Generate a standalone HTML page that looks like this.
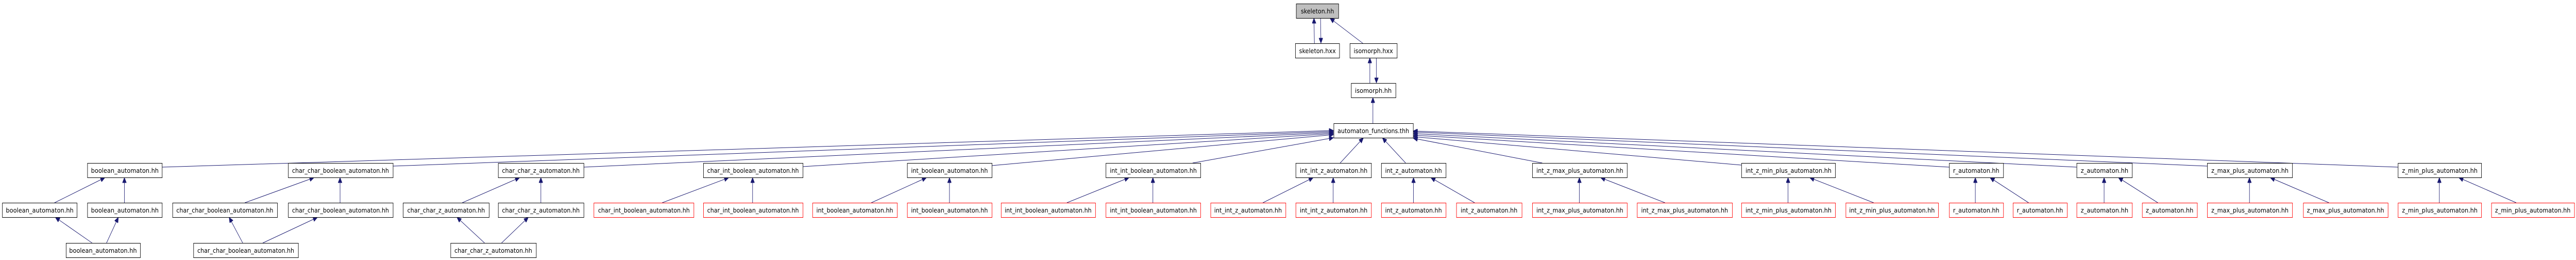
<!DOCTYPE html>
<html><head><meta charset="utf-8"><style>
html,body{margin:0;padding:0;background:#fff;width:100%;height:100%;overflow:hidden}
svg{display:block;position:absolute;left:0;top:0;width:100vw;height:100vh}
text{font-family:"DejaVu Sans","Liberation Sans",sans-serif;font-size:12px;fill:#000}
.n{fill:#fff;stroke:#000;stroke-width:1}
.r{fill:#fff;stroke:#ff0000;stroke-width:1}
.e{stroke:#191970;stroke-width:1;fill:none;marker-end:url(#a)}
</style></head><body>
<svg viewBox="0 0 5901 504" preserveAspectRatio="none" xmlns="http://www.w3.org/2000/svg">
<defs><marker id="a" markerUnits="userSpaceOnUse" markerWidth="11" markerHeight="9" refX="10" refY="4.5" orient="auto"><path d="M0,0 L10,4.5 L0,9 z" fill="#191970" stroke="#191970"/></marker></defs>

<g>
<line class="e" x1="3011" y1="84" x2="3010" y2="35.5"/>
<line class="e" x1="3025" y1="35" x2="3026" y2="83.5"/>
<line class="e" x1="3122" y1="84" x2="3047" y2="35.5"/>
<line class="e" x1="3138" y1="161" x2="3138" y2="112.5"/>
<line class="e" x1="3153" y1="112" x2="3153" y2="160.5"/>
<line class="e" x1="3145" y1="239" x2="3145" y2="189.5"/>

<line class="e" x1="371" y1="324" x2="3054.5" y2="253"/>
<line class="e" x1="900" y1="322" x2="3054.5" y2="255"/>
<line class="e" x1="1337" y1="324" x2="3054.5" y2="257"/>
<line class="e" x1="1839" y1="323" x2="3054.5" y2="259"/>
<line class="e" x1="2272" y1="321" x2="3054.5" y2="261"/>
<line class="e" x1="2732" y1="316" x2="3054.5" y2="267"/>
<line class="e" x1="3070" y1="316" x2="3123" y2="267.5"/>
<line class="e" x1="3220" y1="316" x2="3167" y2="267.5"/>
<line class="e" x1="3533" y1="316" x2="3237.5" y2="268"/>
<line class="e" x1="3989" y1="320" x2="3237.5" y2="265"/>
<line class="e" x1="4465" y1="324" x2="3237.5" y2="262"/>
<line class="e" x1="4757" y1="324" x2="3237.5" y2="259"/>
<line class="e" x1="5056" y1="322" x2="3237.5" y2="256"/>
<line class="e" x1="5493" y1="324" x2="3237.5" y2="254"/>

<line class="e" x1="125" y1="393" x2="240" y2="344.5"/>
<line class="e" x1="285" y1="393" x2="285" y2="344.5"/>
<line class="e" x1="211" y1="471" x2="127" y2="421.5"/>
<line class="e" x1="244" y1="471" x2="271" y2="421.5"/>
<line class="e" x1="561" y1="393" x2="719" y2="344.5"/>
<line class="e" x1="779" y1="393" x2="779" y2="344.5"/>
<line class="e" x1="556" y1="471" x2="525" y2="421.5"/>
<line class="e" x1="602" y1="471" x2="727" y2="421.5"/>
<line class="e" x1="1059" y1="393" x2="1190" y2="344.5"/>
<line class="e" x1="1239" y1="393" x2="1239" y2="344.5"/>
<line class="e" x1="1110" y1="471" x2="1047" y2="421.5"/>
<line class="e" x1="1149" y1="471" x2="1210" y2="421.5"/>
<line class="e" x1="1517" y1="393" x2="1669" y2="344.5"/>
<line class="e" x1="1724" y1="393" x2="1724" y2="344.5"/>
<line class="e" x1="1996" y1="393" x2="2122" y2="344.5"/>
<line class="e" x1="2175" y1="393" x2="2175" y2="344.5"/>
<line class="e" x1="2444" y1="393" x2="2586" y2="344.5"/>
<line class="e" x1="2641" y1="393" x2="2641" y2="344.5"/>
<line class="e" x1="2893" y1="393" x2="3008" y2="344.5"/>
<line class="e" x1="3054" y1="393" x2="3054" y2="344.5"/>
<line class="e" x1="3238" y1="393" x2="3238" y2="344.5"/>
<line class="e" x1="3378" y1="393" x2="3278" y2="344.5"/>
<line class="e" x1="3618" y1="393" x2="3618" y2="344.5"/>
<line class="e" x1="3814" y1="393" x2="3667" y2="344.5"/>
<line class="e" x1="4096" y1="393" x2="4096" y2="344.5"/>
<line class="e" x1="4292" y1="393" x2="4146" y2="344.5"/>
<line class="e" x1="4525" y1="393" x2="4525" y2="344.5"/>
<line class="e" x1="4647" y1="393" x2="4559" y2="344.5"/>
<line class="e" x1="4820" y1="393" x2="4820" y2="344.5"/>
<line class="e" x1="4943" y1="393" x2="4853" y2="344.5"/>
<line class="e" x1="5153" y1="393" x2="5153" y2="344.5"/>
<line class="e" x1="5335" y1="393" x2="5201" y2="344.5"/>
<line class="e" x1="5588" y1="393" x2="5588" y2="344.5"/>
<line class="e" x1="5764" y1="393" x2="5633" y2="344.5"/>
</g>

<g text-anchor="middle">
<rect x="2969.5" y="7.5" width="97" height="28" fill="#bfbfbf" stroke="#000"/><text x="3018" y="26" textLength="76" lengthAdjust="spacingAndGlyphs">skeleton.hh</text>
<rect class="n" x="2967.5" y="84.5" width="101" height="28"/><text x="3018" y="103" textLength="84" lengthAdjust="spacingAndGlyphs">skeleton.hxx</text>
<rect class="n" x="3092.5" y="84.5" width="108" height="28"/><text x="3146" y="103" textLength="90" lengthAdjust="spacingAndGlyphs">isomorph.hxx</text>
<rect class="n" x="3095.5" y="161.5" width="102" height="28"/><text x="3146" y="180" textLength="84" lengthAdjust="spacingAndGlyphs">isomorph.hh</text>
<rect class="n" x="3055.5" y="239.5" width="182" height="28"/><text x="3146" y="258" textLength="164" lengthAdjust="spacingAndGlyphs">automaton_functions.thh</text>

<rect class="n" x="200.5" y="316.5" width="171" height="28"/><text x="286" y="335" textLength="155" lengthAdjust="spacingAndGlyphs">boolean_automaton.hh</text>
<rect class="n" x="660.5" y="316.5" width="240" height="28"/><text x="780" y="335" textLength="222" lengthAdjust="spacingAndGlyphs">char_char_boolean_automaton.hh</text>
<rect class="n" x="1141.5" y="316.5" width="196" height="28"/><text x="1239" y="335" textLength="178" lengthAdjust="spacingAndGlyphs">char_char_z_automaton.hh</text>
<rect class="n" x="1611.5" y="316.5" width="228" height="28"/><text x="1725" y="335" textLength="210" lengthAdjust="spacingAndGlyphs">char_int_boolean_automaton.hh</text>
<rect class="n" x="2078.5" y="316.5" width="194" height="28"/><text x="2175" y="335" textLength="176" lengthAdjust="spacingAndGlyphs">int_boolean_automaton.hh</text>
<rect class="n" x="2533.5" y="316.5" width="217" height="28"/><text x="2642" y="335" textLength="199" lengthAdjust="spacingAndGlyphs">int_int_boolean_automaton.hh</text>
<rect class="n" x="2968.5" y="316.5" width="173" height="28"/><text x="3055" y="335" textLength="155" lengthAdjust="spacingAndGlyphs">int_int_z_automaton.hh</text>
<rect class="n" x="3164.5" y="316.5" width="148" height="28"/><text x="3238" y="335" textLength="130" lengthAdjust="spacingAndGlyphs">int_z_automaton.hh</text>
<rect class="n" x="3510.5" y="316.5" width="217" height="28"/><text x="3619" y="335" textLength="199" lengthAdjust="spacingAndGlyphs">int_z_max_plus_automaton.hh</text>
<rect class="n" x="3989.5" y="316.5" width="215" height="28"/><text x="4097" y="335" textLength="197" lengthAdjust="spacingAndGlyphs">int_z_min_plus_automaton.hh</text>
<rect class="n" x="4465.5" y="316.5" width="124" height="28"/><text x="4527" y="335" textLength="106" lengthAdjust="spacingAndGlyphs">r_automaton.hh</text>
<rect class="n" x="4757.5" y="316.5" width="127" height="28"/><text x="4821" y="335" textLength="109" lengthAdjust="spacingAndGlyphs">z_automaton.hh</text>
<rect class="n" x="5056.5" y="316.5" width="195" height="28"/><text x="5154" y="335" textLength="177" lengthAdjust="spacingAndGlyphs">z_max_plus_automaton.hh</text>
<rect class="n" x="5493.5" y="316.5" width="191" height="28"/><text x="5589" y="335" textLength="173" lengthAdjust="spacingAndGlyphs">z_min_plus_automaton.hh</text>

<rect class="n" x="5.5" y="393.5" width="171" height="28"/><text x="91" y="412" textLength="155" lengthAdjust="spacingAndGlyphs">boolean_automaton.hh</text>
<rect class="n" x="200.5" y="393.5" width="171" height="28"/><text x="286" y="412" textLength="155" lengthAdjust="spacingAndGlyphs">boolean_automaton.hh</text>
<rect class="n" x="395.5" y="393.5" width="240" height="28"/><text x="515" y="412" textLength="222" lengthAdjust="spacingAndGlyphs">char_char_boolean_automaton.hh</text>
<rect class="n" x="660.5" y="393.5" width="240" height="28"/><text x="780" y="412" textLength="222" lengthAdjust="spacingAndGlyphs">char_char_boolean_automaton.hh</text>
<rect class="n" x="923.5" y="393.5" width="197" height="28"/><text x="1022" y="412" textLength="178" lengthAdjust="spacingAndGlyphs">char_char_z_automaton.hh</text>
<rect class="n" x="1141.5" y="393.5" width="196" height="28"/><text x="1239" y="412" textLength="178" lengthAdjust="spacingAndGlyphs">char_char_z_automaton.hh</text>
<rect class="r" x="1360.5" y="393.5" width="229" height="28"/><text x="1475" y="412" textLength="210" lengthAdjust="spacingAndGlyphs">char_int_boolean_automaton.hh</text>
<rect class="r" x="1611.5" y="393.5" width="228" height="28"/><text x="1725" y="412" textLength="210" lengthAdjust="spacingAndGlyphs">char_int_boolean_automaton.hh</text>
<rect class="r" x="1861.5" y="393.5" width="194" height="28"/><text x="1958" y="412" textLength="176" lengthAdjust="spacingAndGlyphs">int_boolean_automaton.hh</text>
<rect class="r" x="2078.5" y="393.5" width="194" height="28"/><text x="2175" y="412" textLength="176" lengthAdjust="spacingAndGlyphs">int_boolean_automaton.hh</text>
<rect class="r" x="2293.5" y="393.5" width="216" height="28"/><text x="2401" y="412" textLength="199" lengthAdjust="spacingAndGlyphs">int_int_boolean_automaton.hh</text>
<rect class="r" x="2533.5" y="393.5" width="217" height="28"/><text x="2642" y="412" textLength="199" lengthAdjust="spacingAndGlyphs">int_int_boolean_automaton.hh</text>
<rect class="r" x="2773.5" y="393.5" width="172" height="28"/><text x="2859" y="412" textLength="155" lengthAdjust="spacingAndGlyphs">int_int_z_automaton.hh</text>
<rect class="r" x="2968.5" y="393.5" width="173" height="28"/><text x="3055" y="412" textLength="155" lengthAdjust="spacingAndGlyphs">int_int_z_automaton.hh</text>
<rect class="r" x="3164.5" y="393.5" width="148" height="28"/><text x="3238" y="412" textLength="130" lengthAdjust="spacingAndGlyphs">int_z_automaton.hh</text>
<rect class="r" x="3336.5" y="393.5" width="150" height="28"/><text x="3411" y="412" textLength="130" lengthAdjust="spacingAndGlyphs">int_z_automaton.hh</text>
<rect class="r" x="3510.5" y="393.5" width="217" height="28"/><text x="3619" y="412" textLength="199" lengthAdjust="spacingAndGlyphs">int_z_max_plus_automaton.hh</text>
<rect class="r" x="3750.5" y="393.5" width="218" height="28"/><text x="3859" y="412" textLength="199" lengthAdjust="spacingAndGlyphs">int_z_max_plus_automaton.hh</text>
<rect class="r" x="3989.5" y="393.5" width="215" height="28"/><text x="4097" y="412" textLength="197" lengthAdjust="spacingAndGlyphs">int_z_min_plus_automaton.hh</text>
<rect class="r" x="4228.5" y="393.5" width="212" height="28"/><text x="4334" y="412" textLength="196" lengthAdjust="spacingAndGlyphs">int_z_min_plus_automaton.hh</text>
<rect class="r" x="4465.5" y="393.5" width="124" height="28"/><text x="4527" y="412" textLength="106" lengthAdjust="spacingAndGlyphs">r_automaton.hh</text>
<rect class="r" x="4611.5" y="393.5" width="124" height="28"/><text x="4673" y="412" textLength="106" lengthAdjust="spacingAndGlyphs">r_automaton.hh</text>
<rect class="r" x="4757.5" y="393.5" width="127" height="28"/><text x="4821" y="412" textLength="109" lengthAdjust="spacingAndGlyphs">z_automaton.hh</text>
<rect class="r" x="4907.5" y="393.5" width="126" height="28"/><text x="4970" y="412" textLength="109" lengthAdjust="spacingAndGlyphs">z_automaton.hh</text>
<rect class="r" x="5056.5" y="393.5" width="195" height="28"/><text x="5154" y="412" textLength="177" lengthAdjust="spacingAndGlyphs">z_max_plus_automaton.hh</text>
<rect class="r" x="5276.5" y="393.5" width="194" height="28"/><text x="5373" y="412" textLength="177" lengthAdjust="spacingAndGlyphs">z_max_plus_automaton.hh</text>
<rect class="r" x="5493.5" y="393.5" width="191" height="28"/><text x="5589" y="412" textLength="173" lengthAdjust="spacingAndGlyphs">z_min_plus_automaton.hh</text>
<rect class="r" x="5707.5" y="393.5" width="190" height="28"/><text x="5802" y="412" textLength="173" lengthAdjust="spacingAndGlyphs">z_min_plus_automaton.hh</text>

<rect class="n" x="151.5" y="471.5" width="170" height="28"/><text x="236" y="490" textLength="155" lengthAdjust="spacingAndGlyphs">boolean_automaton.hh</text>
<rect class="n" x="443.5" y="471.5" width="240" height="28"/><text x="563" y="490" textLength="222" lengthAdjust="spacingAndGlyphs">char_char_boolean_automaton.hh</text>
<rect class="n" x="1032.5" y="471.5" width="196" height="28"/><text x="1130" y="490" textLength="178" lengthAdjust="spacingAndGlyphs">char_char_z_automaton.hh</text>
</g>
</svg>
</body></html>
